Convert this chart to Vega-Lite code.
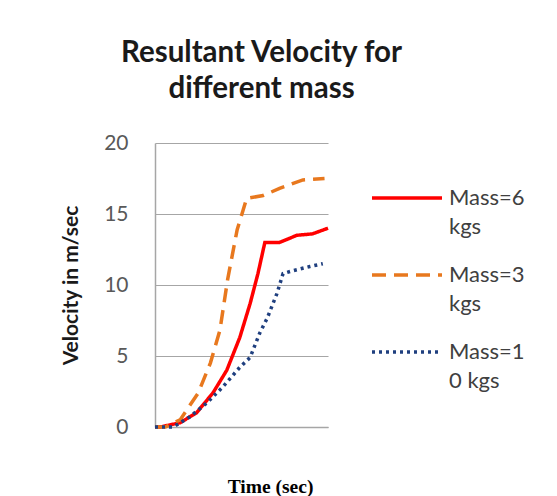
{
  "$schema": "https://vega.github.io/schema/vega-lite/v6.json",
  "autosize": "none",
  "padding": {"left": 155, "top": 143, "right": 229, "bottom": 69},
  "width": 173,
  "height": 284,
  "background": "white",
  "title": {
    "text": ["Resultant Velocity for", "different mass"],
    "font": "Lato",
    "fontSize": 29.5,
    "fontWeight": "bold",
    "color": "#1a1a1a",
    "anchor": "middle",
    "dx": 20,
    "offset": 28,
    "lineHeight": 36
  },
  "data": {
    "values": [
      {"t": 0.0, "v": 0.0, "series": "Mass=6 kgs"},
      {"t": 0.3, "v": 0.0, "series": "Mass=6 kgs"},
      {"t": 1.45, "v": 0.3, "series": "Mass=6 kgs"},
      {"t": 2.4, "v": 1.0, "series": "Mass=6 kgs"},
      {"t": 3.35, "v": 2.4, "series": "Mass=6 kgs"},
      {"t": 4.15, "v": 4.0, "series": "Mass=6 kgs"},
      {"t": 4.9, "v": 6.3, "series": "Mass=6 kgs"},
      {"t": 5.5, "v": 8.7, "series": "Mass=6 kgs"},
      {"t": 5.95, "v": 10.8, "series": "Mass=6 kgs"},
      {"t": 6.35, "v": 13.0, "series": "Mass=6 kgs"},
      {"t": 7.2, "v": 13.0, "series": "Mass=6 kgs"},
      {"t": 8.2, "v": 13.5, "series": "Mass=6 kgs"},
      {"t": 9.1, "v": 13.6, "series": "Mass=6 kgs"},
      {"t": 10.0, "v": 14.0, "series": "Mass=6 kgs"},

      {"t": 0.0, "v": 0.0, "series": "Mass=3 kgs"},
      {"t": 0.6, "v": 0.0, "series": "Mass=3 kgs"},
      {"t": 1.45, "v": 0.5, "series": "Mass=3 kgs"},
      {"t": 2.5, "v": 2.4, "series": "Mass=3 kgs"},
      {"t": 3.2, "v": 4.5, "series": "Mass=3 kgs"},
      {"t": 3.75, "v": 6.8, "series": "Mass=3 kgs"},
      {"t": 4.2, "v": 10.4, "series": "Mass=3 kgs"},
      {"t": 4.75, "v": 13.9, "series": "Mass=3 kgs"},
      {"t": 5.1, "v": 15.3, "series": "Mass=3 kgs"},
      {"t": 5.3, "v": 16.1, "series": "Mass=3 kgs"},
      {"t": 6.25, "v": 16.3, "series": "Mass=3 kgs"},
      {"t": 7.2, "v": 16.8, "series": "Mass=3 kgs"},
      {"t": 8.55, "v": 17.4, "series": "Mass=3 kgs"},
      {"t": 9.8, "v": 17.5, "series": "Mass=3 kgs"},

      {"t": 0.0, "v": 0.0, "series": "Mass=10 kgs"},
      {"t": 1.05, "v": 0.0, "series": "Mass=10 kgs"},
      {"t": 2.0, "v": 0.7, "series": "Mass=10 kgs"},
      {"t": 3.0, "v": 1.7, "series": "Mass=10 kgs"},
      {"t": 3.9, "v": 2.8, "series": "Mass=10 kgs"},
      {"t": 4.9, "v": 4.2, "series": "Mass=10 kgs"},
      {"t": 5.5, "v": 4.9, "series": "Mass=10 kgs"},
      {"t": 6.05, "v": 6.6, "series": "Mass=10 kgs"},
      {"t": 6.5, "v": 7.7, "series": "Mass=10 kgs"},
      {"t": 7.05, "v": 9.4, "series": "Mass=10 kgs"},
      {"t": 7.4, "v": 10.8, "series": "Mass=10 kgs"},
      {"t": 7.95, "v": 11.0, "series": "Mass=10 kgs"},
      {"t": 8.95, "v": 11.3, "series": "Mass=10 kgs"},
      {"t": 9.7, "v": 11.5, "series": "Mass=10 kgs"}
    ]
  },
  "mark": {"type": "line", "strokeWidth": 3.5, "clip": false},
  "encoding": {
    "x": {
      "field": "t",
      "type": "quantitative",
      "scale": {"domain": [0, 10], "nice": false, "zero": true},
      "axis": {
        "title": "Time (sec)",
        "titleFont": "Liberation Serif",
        "titleFontSize": 19.5,
        "titleFontWeight": "bold",
        "titleColor": "black",
        "titleX": 115,
        "titleY": 65,
        "titleBaseline": "alphabetic",
        "titleAnchor": "middle",
        "labels": false,
        "ticks": false,
        "grid": false,
        "domainColor": "#a6a6a6",
        "domainWidth": 1.5
      }
    },
    "y": {
      "field": "v",
      "type": "quantitative",
      "scale": {"domain": [0, 20], "nice": false},
      "axis": {
        "title": "Velocity in m/sec",
        "titleFont": "Lato",
        "titleFontSize": 21,
        "titleFontWeight": "bold",
        "titleColor": "#1a1a1a",
        "titlePadding": 22,
        "values": [0, 5, 10, 15, 20],
        "labelFont": "Lato",
        "labelFontSize": 21,
        "labelColor": "#595959",
        "labelPadding": 27,
        "ticks": false,
        "gridColor": "#a6a6a6",
        "gridWidth": 1.2,
        "domainColor": "#a6a6a6",
        "domainWidth": 1.5
      }
    },
    "color": {
      "field": "series",
      "type": "nominal",
      "scale": {
        "domain": ["Mass=6 kgs", "Mass=3 kgs", "Mass=10 kgs"],
        "range": ["#ff0000", "#e8781e", "#1f3f7f"]
      },
      "legend": {
        "title": null,
        "orient": "none",
        "legendX": 215,
        "legendY": 18,
        "padding": 0,
        "symbolType": "stroke",
        "symbolSize": 4900,
        "symbolStrokeWidth": 3.5,
        "labelFont": "Lato",
        "labelFontSize": 22,
        "labelColor": "#404040",
        "labelOffset": 5,
        "labelLimit": 200,
        "labelBaseline": "alphabetic",
        "labelExpr": "[slice(datum.label, 0, 6), trim(slice(datum.label, 6))]",
        "rowPadding": -6,
        "encode": {
          "labels": {"update": {"dy": {"value": 7}, "lineHeight": {"value": 29}}}
        }
      }
    },
    "strokeDash": {
      "field": "series",
      "type": "nominal",
      "scale": {
        "domain": ["Mass=6 kgs", "Mass=3 kgs", "Mass=10 kgs"],
        "range": [[1, 0], [14, 8], [3, 4]]
      },
      "legend": null
    }
  },
  "config": {
    "view": {"stroke": null}
  }
}
